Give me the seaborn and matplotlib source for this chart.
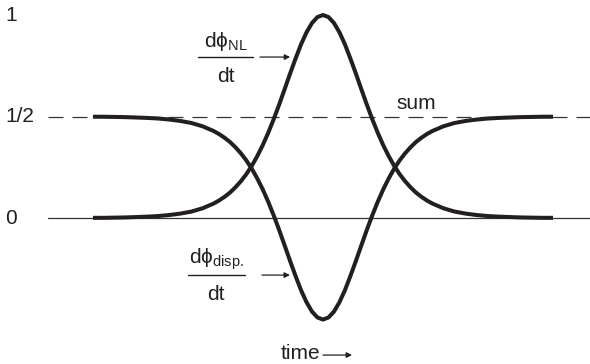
import matplotlib
matplotlib.use('Agg')
import matplotlib.pyplot as plt
import seaborn as sns
import pandas as pd

sns.set_style('white')
plt.rcParams['font.family'] = ['Liberation Sans', 'DejaVu Sans']

# values (time in arbitrary units, pulse centred on 0)
time = [-4.2, -4.0, -3.8, -3.6, -3.4, -3.2, -3.0, -2.8, -2.6, -2.4, -2.2,
        -2.0, -1.9, -1.8, -1.7, -1.6, -1.5, -1.4, -1.3, -1.2, -1.1, -1.0,
        -0.9, -0.8, -0.7, -0.6, -0.5, -0.4, -0.3, -0.2, -0.1, 0.0,
        0.1, 0.2, 0.3, 0.4, 0.5, 0.6, 0.7, 0.8, 0.9, 1.0,
        1.1, 1.2, 1.3, 1.4, 1.5, 1.6, 1.7, 1.8, 1.9, 2.0,
        2.2, 2.4, 2.6, 2.8, 3.0, 3.2, 3.4, 3.6, 3.8, 4.0, 4.2]
dphi_nl = [0.001, 0.001, 0.002, 0.003, 0.005, 0.007, 0.010, 0.015, 0.022, 0.032, 0.048,
           0.071, 0.086, 0.104, 0.125, 0.151, 0.181, 0.216, 0.257, 0.305, 0.359, 0.420,
           0.487, 0.559, 0.635, 0.712, 0.786, 0.856, 0.915, 0.961, 0.990, 1.000,
           0.990, 0.961, 0.915, 0.856, 0.786, 0.712, 0.635, 0.559, 0.487, 0.420,
           0.359, 0.305, 0.257, 0.216, 0.181, 0.151, 0.125, 0.104, 0.086, 0.071,
           0.048, 0.032, 0.022, 0.015, 0.010, 0.007, 0.005, 0.003, 0.002, 0.001, 0.001]
dphi_disp = [0.499, 0.499, 0.498, 0.497, 0.495, 0.493, 0.490, 0.485, 0.478, 0.468, 0.452,
             0.429, 0.414, 0.396, 0.375, 0.349, 0.319, 0.284, 0.243, 0.195, 0.141, 0.080,
             0.013, -0.059, -0.135, -0.212, -0.286, -0.356, -0.415, -0.461, -0.490, -0.500,
             -0.490, -0.461, -0.415, -0.356, -0.286, -0.212, -0.135, -0.059, 0.013, 0.080,
             0.141, 0.195, 0.243, 0.284, 0.319, 0.349, 0.375, 0.396, 0.414, 0.429,
             0.452, 0.468, 0.478, 0.485, 0.490, 0.493, 0.495, 0.497, 0.498, 0.499, 0.499]
level_sum = 0.5
ytick_vals = [1, 0.5, 0]
ytick_labels = ['1', '1/2', '0']

df = pd.DataFrame({'time': time, 'nl': dphi_nl, 'disp': dphi_disp})

fig = plt.figure(figsize=(5.9, 3.64), dpi=100)
ax = fig.add_axes([0, 0, 1, 1])

ink = '#231f20'
ax.axhline(0, xmin=0.081, xmax=1, color='#333333', lw=0.9)
ax.axhline(level_sum, xmin=0.081, xmax=1, color='#333333', lw=0.9,
           linestyle=(0, (12, 7.2)))

for col in ['nl', 'disp']:
    sns.lineplot(data=df, x='time', y=col, ax=ax, color=ink, lw=2.9,
                 estimator=None, sort=False, solid_capstyle='butt',
                 solid_joinstyle='round')
ax.set_xlim(-5.898, 4.876)
ax.set_ylim(-0.719, 1.074)
ax.axis('off')

fs = 15
arrow = dict(arrowstyle='-|>', color=ink, lw=0.9, mutation_scale=8,
             shrinkA=0, shrinkB=0)

for v, lab in zip(ytick_vals, ytick_labels):
    ax.text(-5.807, v, lab, fontsize=fs, ha='left', va='center', color=ink)

# d phi_NL / dt
ax.text(-1.78, 0.842, 'd\u03d5$_{\\mathregular{NL}}$', fontsize=fs, ha='center',
        va='baseline', color=ink)
ax.plot([-2.283, -1.278], [0.793, 0.793], color=ink, lw=1.0)
ax.text(-1.77, 0.744, 'dt', fontsize=fs, ha='center', va='top', color=ink)
ax.annotate('', xy=(-0.60, 0.793), xytext=(-1.15, 0.793), arrowprops=arrow)

# d phi_disp / dt
ax.text(-1.945, -0.222, 'd\u03d5$_{\\mathregular{disp.}}$', fontsize=fs, ha='center',
        va='baseline', color=ink)
ax.plot([-2.465, -1.424], [-0.281, -0.281], color=ink, lw=1.0)
ax.text(-1.96, -0.33, 'dt', fontsize=fs, ha='center', va='top', color=ink)
ax.annotate('', xy=(-0.603, -0.281), xytext=(-1.114, -0.281), arrowprops=arrow)

ax.text(1.698, 0.537, 'sum', fontsize=fs, ha='center', va='baseline', color=ink)

ax.text(-0.05, -0.695, 'time', fontsize=fs, ha='right', va='baseline', color=ink)
ax.annotate('', xy=(0.53, -0.675), xytext=(0.0, -0.675), arrowprops=arrow)

fig.savefig('out.png', dpi=100)
